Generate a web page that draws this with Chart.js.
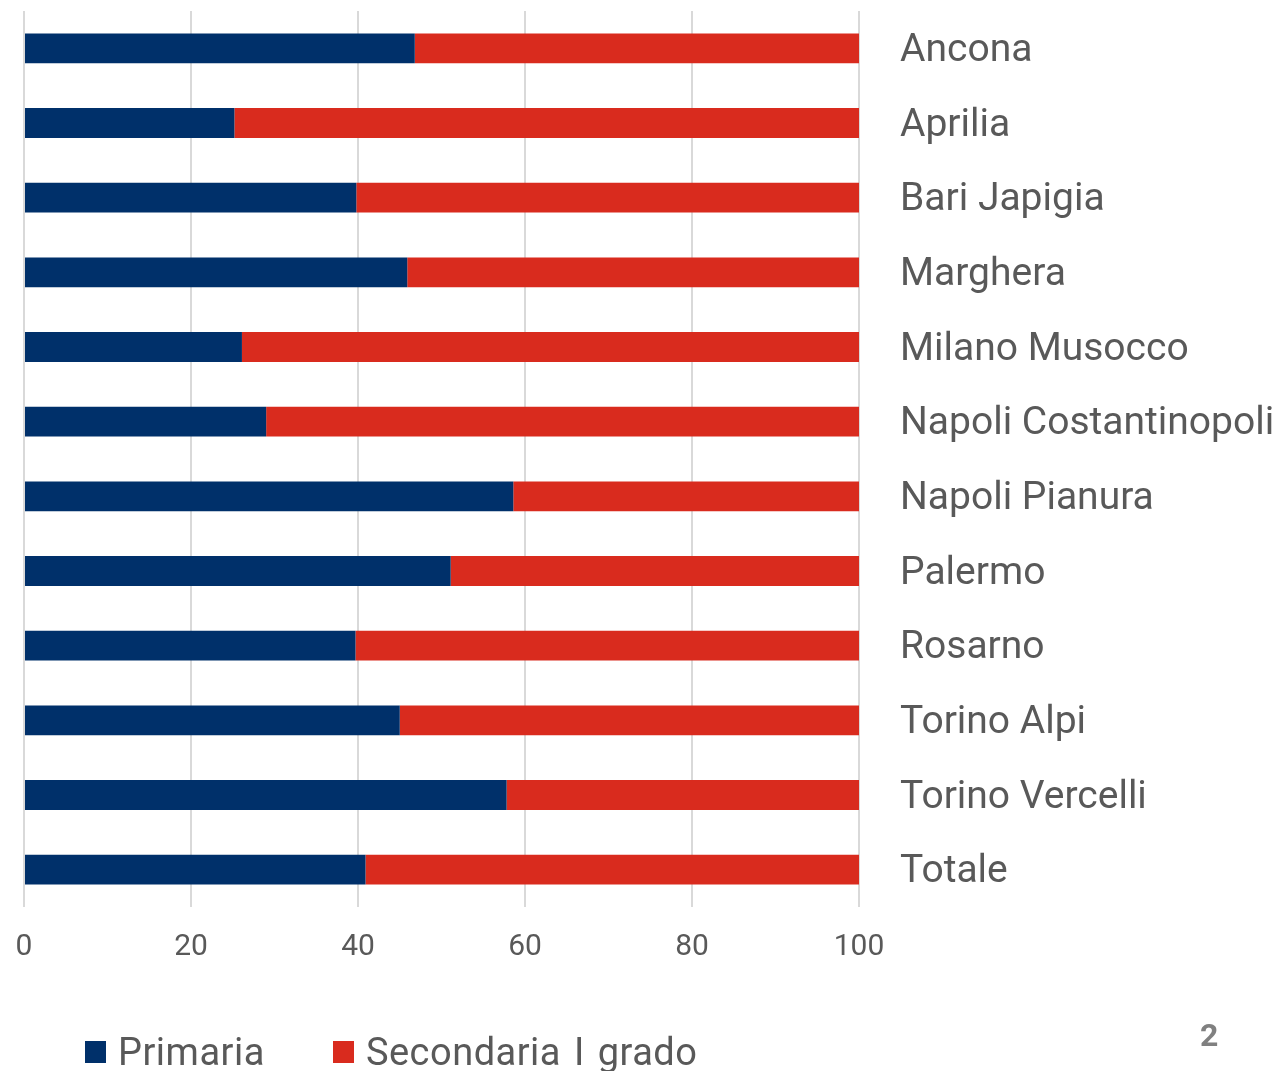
<!DOCTYPE html>
<html>
<head>
<meta charset="utf-8">
<script src="https://cdn.jsdelivr.net/npm/chart.js@4.4.1/dist/chart.umd.min.js"></script>
<style>
  html, body { margin: 0; padding: 0; background: #ffffff; }
  body { width: 1281px; height: 1071px; position: relative; overflow: hidden; font-family: Roboto, "Noto Sans", sans-serif; }
  #wrap { position: absolute; left: 0; top: 0; width: 1281px; height: 1071px; }
  #legend { position: absolute; left: 85px; top: 1030px; display: flex; align-items: center; color: #595959; font-size: 38px; line-height: 44px; white-space: nowrap; }
  .item { display: flex; align-items: center; margin-right: 68px; }
  .item span { word-spacing: 3px; letter-spacing: 0.5px; }
  .sw { width: 21px; height: 22px; margin-right: 12px; }
  #page { position: absolute; left: 1200px; top: 1016px; color: #808080; font-size: 32px; font-weight: bold; }
</style>
</head>
<body>
<div id="wrap"><canvas id="c" width="1281" height="1071"></canvas></div>
<div id="legend"></div>
<div id="page">2</div>
<script>
const categories = ["Ancona", "Aprilia", "Bari Japigia", "Marghera", "Milano Musocco", "Napoli Costantinopoli", "Napoli Pianura", "Palermo", "Rosarno", "Torino Alpi", "Torino Vercelli", "Totale"];
const primaria = [46.8, 25.2, 39.8, 45.9, 26.1, 29.0, 58.6, 51.1, 39.7, 45.0, 57.8, 40.9];
const secondaria = [53.2, 74.8, 60.2, 54.1, 73.9, 71.0, 41.4, 48.9, 60.3, 55.0, 42.2, 59.1];
const seriesNames = ["Primaria", "Secondaria I grado"];
const seriesColors = ["#00306A", "#D92B1E"];
const xTicks = [0, 20, 40, 60, 80, 100];

const legend = document.getElementById('legend');
seriesNames.forEach((n, i) => {
  const it = document.createElement('div'); it.className = 'item';
  const sw = document.createElement('div'); sw.className = 'sw'; sw.style.background = seriesColors[i];
  const tx = document.createElement('span'); tx.textContent = n;
  it.appendChild(sw); it.appendChild(tx); legend.appendChild(it);
});

new Chart(document.getElementById('c'), {
  type: 'bar',
  data: {
    labels: categories,
    datasets: [
      { label: seriesNames[0], data: primaria, backgroundColor: seriesColors[0], borderWidth: 0 },
      { label: seriesNames[1], data: secondaria, backgroundColor: seriesColors[1], borderWidth: 0 }
    ]
  },
  options: {
    indexAxis: 'y',
    responsive: false,
    animation: false,
    devicePixelRatio: 1,
    layout: { padding: { left: 24, top: 11, right: 0, bottom: 0 } },
    datasets: { bar: { barPercentage: 0.4, categoryPercentage: 1.0 } },
    plugins: { legend: { display: false }, tooltip: { enabled: false } },
    scales: {
      x: {
        stacked: true, min: 0, max: 100,
        afterBuildTicks: (s) => { s.ticks = xTicks.map(v => ({ value: v })); },
        afterFit: (s) => { s.height = 164; },
        grid: { color: '#D9D9D9', lineWidth: 2, drawTicks: true, tickLength: 22, tickColor: 'rgba(0,0,0,0)' },
        border: { display: false },
        ticks: { color: '#595959', font: { family: 'Roboto', size: 30 }, padding: 0, maxRotation: 0 }
      },
      y: {
        stacked: true, position: 'right',
        afterFit: (s) => { s.width = 422; s.paddingTop = 0; s.paddingBottom = 0; },
        grid: { display: true, drawOnChartArea: false, drawTicks: true, tickLength: 41, color: 'rgba(0,0,0,0)', tickColor: 'rgba(0,0,0,0)' },
        border: { display: false },
        ticks: { color: '#595959', font: { family: 'Roboto', size: 39 }, padding: 0, crossAlign: 'near', labelOffset: 3 }
      }
    }
  }
});
</script>
</body>
</html>
